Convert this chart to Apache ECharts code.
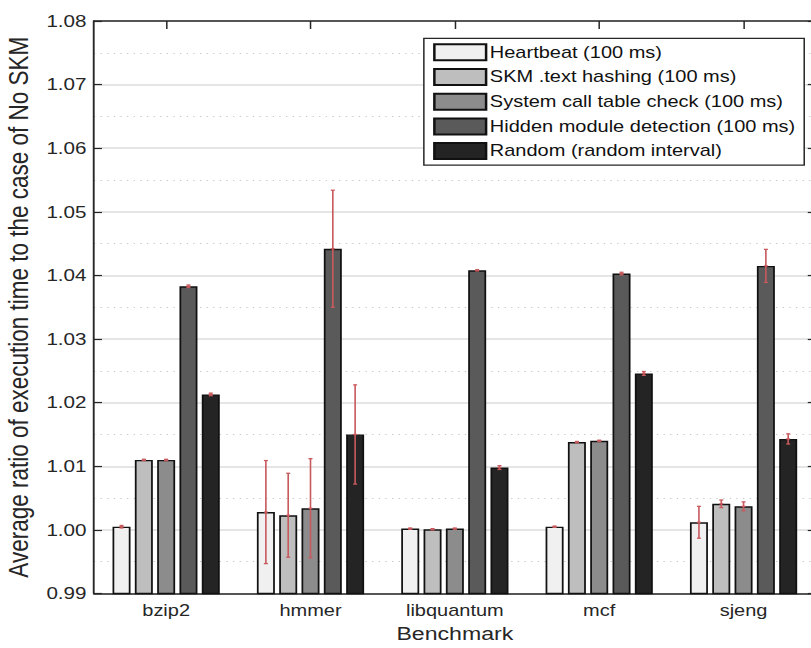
<!DOCTYPE html>
<html>
<head>
<meta charset="utf-8">
<title>Average execution time ratio per benchmark</title>
<script src="https://cdn.jsdelivr.net/npm/echarts@6/dist/echarts.min.js"></script>
<style>
  html, body { margin: 0; padding: 0; background: #ffffff; overflow: hidden; }
  #stage { width: 811px; height: 648px; overflow: hidden; }
  /* the figure is laid out at 649px and widened to 811px (horizontal stretch of the original figure) */
  #chart { width: 649px; height: 648px; transform: scaleX(1.2496); transform-origin: 0 0; }
</style>
</head>
<body>
<div id="stage"><div id="chart"></div></div>
<script>
// ---- data ----
const categories = ['bzip2', 'hmmer', 'libquantum', 'mcf', 'sjeng'];
const seriesNames = [
  'Heartbeat (100 ms)',
  'SKM .text hashing (100 ms)',
  'System call table check (100 ms)',
  'Hidden module detection (100 ms)',
  'Random (random interval)'
];
const heartbeat = [1.0005, 1.0028, 1.0002, 1.0005, 1.0012];
const textHashing = [1.0110, 1.0023, 1.0001, 1.0138, 1.0041];
const syscallCheck = [1.0110, 1.0034, 1.0002, 1.0140, 1.0037];
const hiddenModule = [1.0383, 1.0442, 1.0408, 1.0403, 1.0415];
const randomInterval = [1.0213, 1.0150, 1.0098, 1.0246, 1.0143];

const heartbeatErr = [0.0002, 0.0081, 0.0001, 0.0001, 0.0025];
const textHashingErr = [0.0001, 0.0066, 0.0001, 0.0001, 0.0006];
const syscallCheckErr = [0.0001, 0.0078, 0.0001, 0.0001, 0.0007];
const hiddenModuleErr = [0.0002, 0.0092, 0.0001, 0.0002, 0.0026];
const randomIntervalErr = [0.0002, 0.0078, 0.0003, 0.0003, 0.0008];

const yMin = 0.99, yMax = 1.08, yStep = 0.01;

// ---- styling ----
const FONT = 'Liberation Sans, Arial, Helvetica, sans-serif';
const TEXT = '#262626';
const fills = ['#f0f0f0', '#bebebe', '#8c8c8c', '#5a5a5a', '#242424'];
const ERR_COLOR = '#c85a5e';
const BAR_W = 14.4;
const BAR_GAP = 0.24;

const values = [heartbeat, textHashing, syscallCheck, hiddenModule, randomInterval];
const errors = [heartbeatErr, textHashingErr, syscallCheckErr, hiddenModuleErr, randomIntervalErr];

const chart = echarts.init(document.getElementById('chart'), null, { renderer: 'svg' });

const barSeries = values.map((vals, i) => ({
  name: seriesNames[i],
  type: 'bar',
  xAxisIndex: 0,
  yAxisIndex: 0,
  data: vals,
  barWidth: BAR_W,
  barGap: (BAR_GAP * 100) + '%',
  itemStyle: { color: fills[i], borderColor: '#111111', borderWidth: 1.4 },
  emphasis: { disabled: true },
  z: 2
}));

// error bars drawn centred on each bar of the group
const errSeries = values.map((vals, i) => ({
  name: 'err-' + i,
  type: 'custom',
  xAxisIndex: 0,
  yAxisIndex: 0,
  data: vals.map((v, k) => [k, v, errors[i][k]]),
  z: 5,
  silent: true,
  renderItem: function (params, api) {
    const idx = api.value(0);
    const mean = api.value(1);
    const e = api.value(2);
    const pitch = BAR_W * (1 + BAR_GAP);
    const dx = (i - (values.length - 1) / 2) * pitch;
    const top = api.coord([idx, mean + e]);
    const bot = api.coord([idx, mean - e]);
    const mid = api.coord([idx, mean]);
    const x = top[0] + dx;
    const cap = 1.6;
    const style = { stroke: ERR_COLOR, lineWidth: 1.3, fill: null };
    return {
      type: 'group',
      children: [
        { type: 'line', shape: { x1: x, y1: top[1], x2: x, y2: bot[1] }, style: style },
        { type: 'line', shape: { x1: x - cap, y1: top[1], x2: x + cap, y2: top[1] }, style: style },
        { type: 'line', shape: { x1: x - cap, y1: bot[1], x2: x + cap, y2: bot[1] }, style: style },
        { type: 'line', shape: { x1: x - cap, y1: mid[1], x2: x + cap, y2: mid[1] }, style: style }
      ]
    };
  }
}));

const axisLine = { show: true, onZero: false, lineStyle: { color: TEXT, width: 1.5 } };

chart.setOption({
  animation: false,
  backgroundColor: '#ffffff',
  textStyle: { fontFamily: FONT, color: TEXT },
  grid: { left: 75.2, top: 21, width: 577.6, bottom: 54.5, containLabel: false, outerBoundsMode: 'none' },
  legend: {
    data: seriesNames,
    orient: 'vertical',
    left: 339.2,
    top: 38.3,
    itemWidth: 41.4,
    itemHeight: 16,
    itemGap: 6.7,
    padding: [5, 7, 5, 7.4],
    backgroundColor: '#ffffff',
    borderColor: TEXT,
    borderWidth: 1.2,
    borderRadius: 0,
    icon: 'rect',
    selectedMode: false,
    textStyle: { fontFamily: FONT, fontSize: 16, color: '#111111', padding: [0, 0, 0, -2] }
  },
  xAxis: [
    {
      type: 'category',
      data: categories,
      position: 'bottom',
      name: 'Benchmark',
      nameLocation: 'middle',
      nameGap: 30,
      nameTextStyle: { fontFamily: FONT, fontSize: 18.5, color: TEXT },
      axisLine: axisLine,
      axisTick: { show: true, inside: true, alignWithLabel: true, length: 8, lineStyle: { color: TEXT, width: 1.2 } },
      axisLabel: { fontFamily: FONT, fontSize: 16, color: TEXT, margin: 9 },
      splitLine: { show: false }
    },
    {
      type: 'category',
      data: categories,
      position: 'top',
      axisLine: axisLine,
      axisTick: { show: true, inside: true, alignWithLabel: true, length: 8, lineStyle: { color: TEXT, width: 1.2 } },
      axisLabel: { show: false },
      splitLine: { show: false }
    }
  ],
  yAxis: [
    {
      type: 'value',
      min: yMin,
      max: yMax,
      interval: yStep,
      position: 'left',
      name: 'Average ratio of execution time to the case of No SKM',
      nameLocation: 'middle',
      nameGap: 48,
      nameTextStyle: { fontFamily: FONT, fontSize: 22.5, color: TEXT },
      axisLine: axisLine,
      axisTick: { show: true, inside: true, length: 6.4, lineStyle: { color: TEXT, width: 1.2 } },
      axisLabel: {
        fontFamily: FONT, fontSize: 16.5, color: TEXT, margin: 6,
        formatter: v => v.toFixed(2)
      },
      splitLine: { show: true, lineStyle: { color: '#dcdcdc', width: 1.5 } },
      minorTick: { show: false, splitNumber: 2 },
      minorSplitLine: { show: true, lineStyle: { color: '#c4c4c4', width: 1.2, type: [1, 4.3] } }
    },
    {
      type: 'value',
      min: yMin,
      max: yMax,
      interval: yStep,
      position: 'right',
      axisLine: axisLine,
      axisTick: { show: true, inside: true, length: 6.4, lineStyle: { color: TEXT, width: 1.2 } },
      axisLabel: { show: false },
      splitLine: { show: false }
    }
  ],
  series: barSeries.concat(errSeries)
});
</script>
</body>
</html>
